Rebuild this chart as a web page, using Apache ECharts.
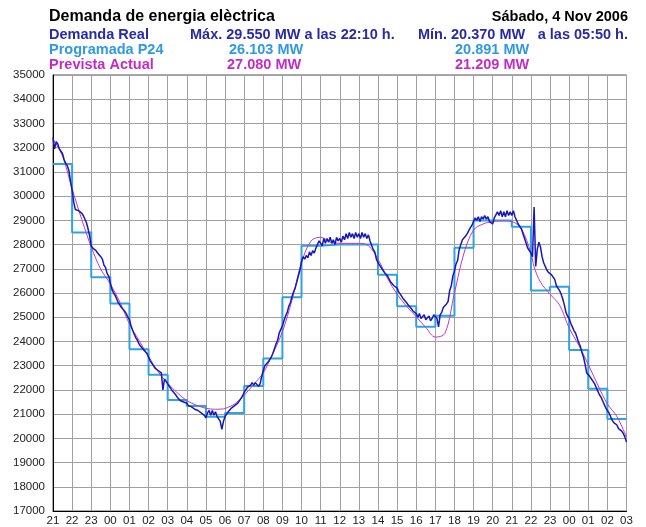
<!DOCTYPE html>
<html>
<head>
<meta charset="utf-8">
<title>Demanda de energia elèctrica</title>
<script src="https://cdn.jsdelivr.net/npm/echarts@6/dist/echarts.min.js"></script>
<style>
  html, body { margin: 0; padding: 0; background: #ffffff; }
  #chart { width: 646px; height: 527px; }
</style>
</head>
<body>
<div id="chart"></div>
<script>
// Hour tick labels along the time axis (21:00 Friday to 03:00 Sunday)
const hourLabels = ['21','22','23','00','01','02','03','04','05','06','07','08','09','10','11','12',
  '13','14','15','16','17','18','19','20','21','22','23','00','01','02','03'];

// Demanda Real, MW, one value every 5 minutes starting at 21:00
const realStepMin = 5;
const realDemand = [
  32420, 31950, 32250, 32150, 31950, 31900, 31750, 31500, 31350, 31250, 31050, 30600,
  30250, 29750, 29450, 29500, 29400, 29350, 29300, 29200, 29150, 28900, 28650, 28350,
  27950, 27850, 27800, 27750, 27650, 27700, 27500, 27400, 27150, 27050, 26800, 26700,
  26400, 26150, 26000, 25900, 25750, 25600, 25500, 25400, 25350, 25250, 25150, 25000,
  24900, 24650, 24450, 24300, 24150, 24050, 23900, 23800, 23750, 23650, 23600, 23500,
  23350, 23200, 23150, 23000, 22900, 22950, 22800, 22750, 22700, 22000, 22450, 22350,
  22250, 22150, 22050, 21950, 21900, 21800, 21700, 21650, 21550, 21600, 21500, 21450,
  21450, 21350, 21400, 21300, 21300, 21200, 21250, 21150, 21150, 21050, 21100, 20950,
  20850, 21050, 21150, 20950, 21150, 20950, 21100, 20900, 20950, 20700, 20370, 20700,
  20900, 21000, 21100, 21050, 21250, 21200, 21350, 21300, 21450, 21550, 21600, 21750,
  21900, 22000, 22100, 22050, 22200, 22300, 22200, 22300, 22250, 22150, 22250, 22550,
  22800, 23000, 23050, 23150, 23250, 23350, 23500, 23700, 23900, 24050, 24350, 24500,
  24650, 24850, 25050, 25200, 25450, 25600, 25850, 26050, 26200, 26450, 26700, 26950,
  27300, 27500, 27400, 27550, 27450, 27700, 27550, 27750, 27650, 27850, 28000, 28150,
  28150, 27950, 28250, 28050, 28250, 28100, 28300, 28050, 28200, 28000, 28300, 28150,
  28250, 28100, 28350, 28200, 28450, 28250, 28500, 28300, 28450, 28250, 28500, 28300,
  28450, 28250, 28500, 28300, 28450, 28250, 28400, 28150, 28100, 27800, 27700, 27400,
  27250, 27150, 27050, 26950, 26850, 26900, 26700, 26650, 26450, 26500, 26300, 26250,
  26200, 26050, 25950, 25850, 25750, 25700, 25600, 25500, 25450, 25350, 25250, 25200,
  25150, 25000, 25150, 24950, 25000, 25100, 24900, 24950, 25050, 24850, 24950, 25100,
  25150, 24950, 24600, 25100, 25200, 25400, 25350, 25550, 25650, 26100, 26300, 26700,
  26900, 27200, 27350, 27800, 28000, 28200, 28250, 28350, 28450, 28500, 28700, 28800,
  28950, 29100, 29000, 29150, 28950, 29150, 29050, 29200, 29050, 29150, 28950, 28900,
  28850, 29100, 29150, 29350, 29200, 29400, 29150, 29350, 29150, 29400, 29200, 29350,
  29200, 29400, 29150, 29100, 28850, 28900, 28650, 28600, 28250, 28050, 27850, 27850,
  27650, 27500, 29550, 27100, 27800, 28100, 27900, 27500, 27250, 27100, 26950, 26850,
  26800, 26750, 26800, 26550, 26300, 26250, 26100, 25950, 25750, 25500, 25200, 25050,
  24950, 24750, 24600, 24450, 24350, 24150, 23950, 23800, 23550, 23350, 23050, 22700,
  22650, 22550, 22450, 22350, 22250, 22100, 21950, 21800, 21700, 21550, 21400, 21250,
  21150, 21050, 20900, 20750, 20650, 20600, 20550, 20400, 20350, 20300, 20200, 20050,
  19850
];

// Programada P24, MW, one value per hour starting at 21:00
const programada = [
  31330, 28500, 26650, 25570, 23680, 22630, 21580, 21330, 20891, 21050,
  22160, 23300, 25820, 27950, 28000, 28000, 28000, 26750, 25450, 24610,
  25060, 27870, 28990, 28990, 28740, 26103, 26260, 23650, 22050, 20800
];

// Prevista Actual, minutes after 21:00 and MW
const previstaMin = [
  0, 30, 60, 90, 120, 150, 180, 210, 240, 270, 300, 330, 360, 390, 420, 450, 480, 510, 530, 540,
  570, 600, 630, 660, 690, 720, 750, 780, 810, 840, 870, 900, 930, 960, 990, 1020, 1050, 1080,
  1110, 1140, 1170, 1200, 1230, 1260, 1290, 1320, 1350, 1380, 1410, 1440, 1470, 1500, 1510,
  1530, 1560, 1590, 1620, 1650, 1680, 1710, 1740, 1770, 1800
];
const previstaValues = [
  32350, 31650, 30300, 29050, 27900, 26980, 26370, 25620, 24720, 24040, 23380, 22750, 22270,
  21880, 21560, 21370, 21240, 21200, 21209, 21230, 21420, 21780, 22230, 22700, 23500, 24400,
  25700, 27250, 28150, 28300, 28100, 28050, 28050, 28050, 27950, 27400, 26600, 25950, 25450,
  25020, 24580, 24180, 24330, 26000, 27650, 28600, 28850, 28950, 28980, 28950, 28650, 27650,
  27080, 26450, 25950, 25500, 24550, 23850, 23050, 22200, 21420, 20900, 20050
];

// Saturday runs from 00:00 to 24:00, i.e. minutes 180..1620 after 21:00
const dayStartMin = 180;
const dayEndMin = 1620;

const COL_REAL = '#1818b8';
const COL_REAL_TXT = '#2a2aa8';
const COL_PROG = '#2ea3e3';
const COL_PROG_TXT = '#2f9ade';
const COL_PREV = '#bf38cc';
const COL_PREV_TXT = '#c22bc4';

// Series as [hours after 21:00, MW]
const realData = realDemand.map((v, i) => [i * realStepMin / 60, v]);
const progData = programada.map((v, h) => [h, v]);
progData.push([programada.length, programada[programada.length - 1]]);
const prevData = previstaMin.map((m, i) => [m / 60, previstaValues[i]]);

// Daily maximum and minimum of the real demand
let iMax = -1, iMin = -1;
realDemand.forEach((v, i) => {
  const m = i * realStepMin;
  if (m < dayStartMin || m > dayEndMin) return;
  if (iMax < 0 || v > realDemand[iMax]) iMax = i;
  if (iMin < 0 || v < realDemand[iMin]) iMin = i;
});

function fmtMW(v) { return String(Math.round(v)).replace(/\B(?=(\d{3})+(?!\d))/g, '.'); }
function fmtTime(m) {
  const t = (21 * 60 + m) % 1440;
  const hh = Math.floor(t / 60), mm = t % 60;
  return String(hh).padStart(2, '0') + ':' + String(mm).padStart(2, '0');
}
function progAt(m) { return programada[Math.floor(m / 60)]; }
function prevAt(m) { return previstaValues[previstaMin.indexOf(m)]; }
const mMax = iMax * realStepMin, mMin = iMin * realStepMin;

const FONT = '"Liberation Sans", Arial, sans-serif';
function txt(x, y, s, color, size, align) {
  return {
    type: 'text', x: x, y: y, silent: true,
    style: {
      text: s, fill: color, font: 'bold ' + size + 'px ' + FONT,
      textAlign: align || 'left', textVerticalAlign: 'middle'
    }
  };
}

const chart = echarts.init(document.getElementById('chart'), null, { renderer: 'canvas' });
chart.setOption({
  animation: false,
  backgroundColor: '#ffffff',
  grid: { left: 53, right: 19.5, top: 75, bottom: 16, show: true, borderColor: '#555', borderWidth: 1 },
  xAxis: {
    type: 'value', min: 0, max: 30, interval: 1,
    axisLine: { show: true, lineStyle: { color: '#000', width: 1 } },
    axisTick: { show: false },
    splitLine: { show: true, lineStyle: { color: '#a0a0a0', width: 1 } },
    axisLabel: {
      formatter: v => hourLabels[Math.round(v)],
      fontFamily: FONT, fontSize: 11.5, color: '#222', margin: 4
    }
  },
  yAxis: {
    type: 'value', min: 17000, max: 35000, interval: 1000,
    axisLine: { show: true, lineStyle: { color: '#000', width: 1 } },
    axisTick: { show: false },
    splitLine: { show: true, lineStyle: { color: '#a0a0a0', width: 1 } },
    axisLabel: { formatter: v => String(v), fontFamily: FONT, fontSize: 11.5, color: '#222', margin: 8 }
  },
  series: [
    {
      name: 'Programada P24', type: 'line', step: 'end', data: progData,
      symbol: 'none', lineStyle: { color: COL_PROG, width: 2 }, z: 2
    },
    {
      name: 'Prevista Actual', type: 'line', smooth: 0.35, data: prevData,
      symbol: 'none', lineStyle: { color: COL_PREV, width: 1 }, z: 3
    },
    {
      name: 'Demanda Real', type: 'line', data: realData,
      symbol: 'none', lineStyle: { color: COL_REAL, width: 1.5 }, z: 4
    }
  ],
  graphic: [
    txt(49, 17, 'Demanda de energia elèctrica', '#000', 16),
    txt(628, 17, 'Sábado, 4 Nov 2006', '#000', 14.5, 'right'),
    txt(49, 35, 'Demanda Real', COL_REAL_TXT, 14.5),
    txt(190, 35, 'Máx. ' + fmtMW(realDemand[iMax]) + ' MW a las ' + fmtTime(mMax) + ' h.', COL_REAL_TXT, 14.5),
    txt(418, 35, 'Mín. ' + fmtMW(realDemand[iMin]) + ' MW', COL_REAL_TXT, 14.5),
    txt(628, 35, 'a las ' + fmtTime(mMin) + ' h.', COL_REAL_TXT, 14.5, 'right'),
    txt(49, 50, 'Programada P24', COL_PROG_TXT, 14.5),
    txt(229, 50, fmtMW(progAt(mMax)) + ' MW', COL_PROG_TXT, 14.5),
    txt(455, 50, fmtMW(progAt(mMin)) + ' MW', COL_PROG_TXT, 14.5),
    txt(49, 65, 'Prevista Actual', COL_PREV_TXT, 14.5),
    txt(227, 65, fmtMW(prevAt(mMax)) + ' MW', COL_PREV_TXT, 14.5),
    txt(455, 65, fmtMW(prevAt(mMin)) + ' MW', COL_PREV_TXT, 14.5)
  ]
});
</script>
</body>
</html>
